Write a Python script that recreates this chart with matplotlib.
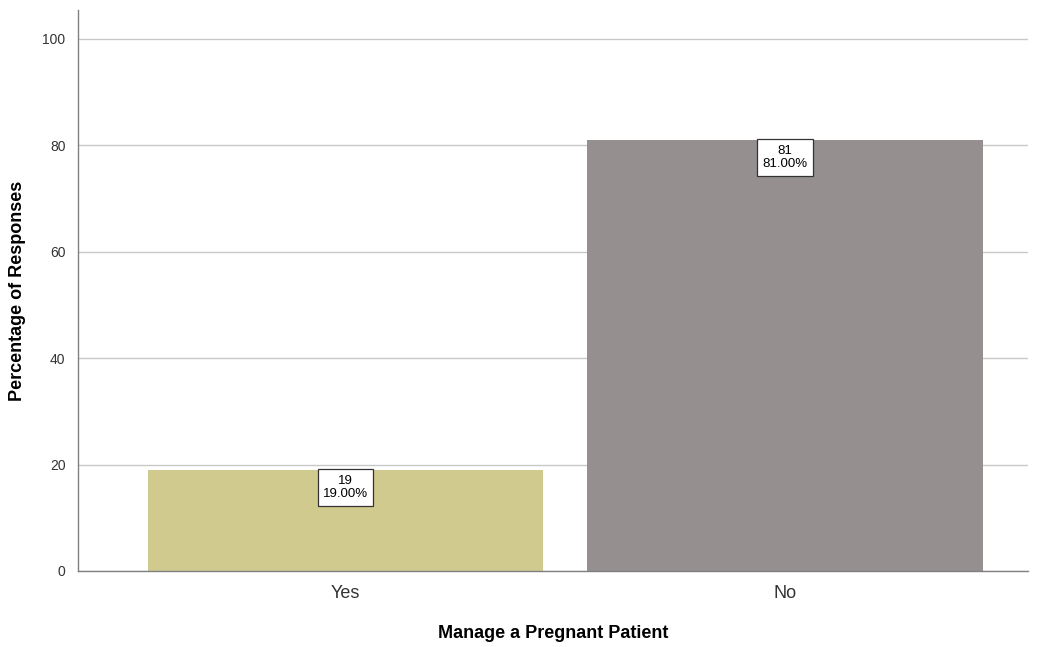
import matplotlib.pyplot as plt

plt.rcParams['font.family'] = ['Liberation Sans', 'DejaVu Sans']

categories = ['Yes', 'No']
counts = [19, 81]
percents = [19.0, 81.0]
colors = ['#d0ca8e', '#958f8f']

fig = plt.figure(figsize=(10.42, 6.47), dpi=100)
ax = fig.add_axes([0.0749, 0.1175, 0.9117, 0.867])

x = range(len(categories))
ax.bar(x, percents, width=0.9, color=colors, zorder=2)

for xi, c, p in zip(x, counts, percents):
    ax.text(xi, p - 0.9, f'{c}\n{p:.2f}%', ha='center', va='top', fontsize=9.5,
            linespacing=1.2, zorder=3,
            bbox=dict(boxstyle='square,pad=0.4', fc='white', ec='#333333', lw=0.9))

ax.set_xlim(-0.609, 1.553)
ax.set_ylim(0, 105.4)
ax.set_yticks([0, 20, 40, 60, 80, 100])
ax.set_xticks(list(x))
ax.set_xticklabels(categories, fontsize=13, color='#333333')
ax.tick_params(axis='y', labelsize=10, colors='#333333', length=0, pad=9)
ax.tick_params(axis='x', length=0, pad=10)
ax.yaxis.grid(True, color='#c8c8c8', lw=1.0, zorder=1)
for s in ['top', 'right']:
    ax.spines[s].set_visible(False)
for s in ['left', 'bottom']:
    ax.spines[s].set_color('#808080')
    ax.spines[s].set_linewidth(1.0)

ax.set_xlabel('Manage a Pregnant Patient', fontsize=13, fontweight='bold', labelpad=17)
ax.set_ylabel('Percentage of Responses', fontsize=13, fontweight='bold', labelpad=12)

fig.savefig('out.png', dpi=100)
